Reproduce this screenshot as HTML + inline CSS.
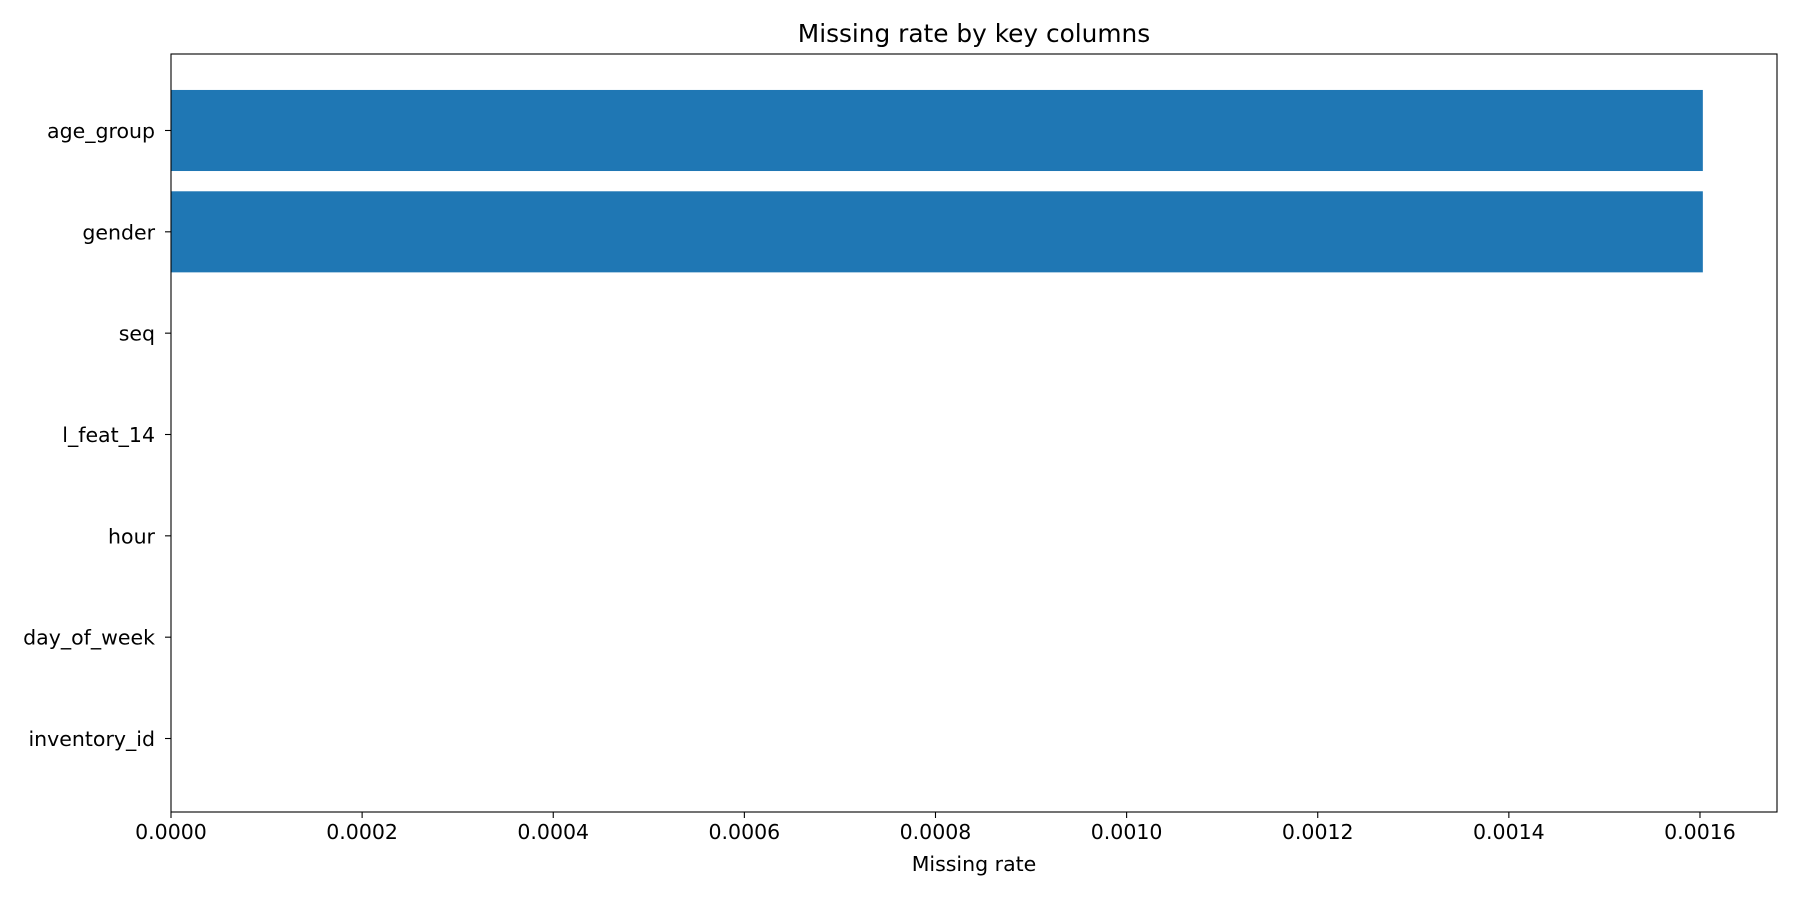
<!DOCTYPE html>
<html><head><meta charset="utf-8"><style>
body{margin:0;background:#fff;}
svg text{font-family:"DejaVu Sans","Liberation Sans",sans-serif;fill:#000;}
</style></head><body>
<svg id="chart" width="1800" height="900" viewBox="0 0 1800 900">
<rect width="1800" height="900" fill="#fff"/>
<g id="plot"></g>
</svg>
<script>
const categories=["age_group","gender","seq","l_feat_14","hour","day_of_week","inventory_id"];
const values=[0.001603,0.001603,0,0,0,0,0];
const xTicks=[0,0.0002,0.0004,0.0006,0.0008,0.0010,0.0012,0.0014,0.0016];
const xTickLabels=["0.0000","0.0002","0.0004","0.0006","0.0008","0.0010","0.0012","0.0014","0.0016"];
const L=171,R=1777,T=54,B=812,XMAX=0.0016806;
const NS="http://www.w3.org/2000/svg";
const g=document.getElementById('plot');
function x(v){return L+(v/XMAX)*(R-L);}
const step=(B-T)/7.48;
function yc(i){return T+1.5+step*0.74+i*step;}
function mk(t,a,txt){const e=document.createElementNS(NS,t);for(const k in a)e.setAttribute(k,a[k]);if(txt!==undefined)e.textContent=txt;g.appendChild(e);return e;}
categories.forEach((c,i)=>{
  const h=step*0.8;
  if(values[i]>0){
    const r=mk('rect',{x:x(0),y:yc(i)-h/2,width:x(values[i])-x(0),height:h,fill:'#1f77b4'});
    
    
  }
  const t=mk('line',{x1:L-6,x2:L,y1:yc(i),y2:yc(i),stroke:'#000','stroke-width':1.1});
  
  
  const lb=mk('text',{x:L-16,y:yc(i)+7.5,'text-anchor':'end','font-size':20.5},c);
  
  
});
xTicks.forEach((v,i)=>{
  const t=mk('line',{x1:x(v),x2:x(v),y1:B,y2:B+6,stroke:'#000','stroke-width':1.1});
  
  
  const lb=mk('text',{x:x(v),y:839,'text-anchor':'middle','font-size':20.5},xTickLabels[i]);
  
  
});
const fr=mk('rect',{x:L,y:T,width:R-L,height:B-T,fill:'none',stroke:'#000','stroke-width':1.1});


const ti=mk('text',{x:(L+R)/2,y:42,'text-anchor':'middle','font-size':24.8},'Missing rate by key columns');


const xl=mk('text',{x:(L+R)/2,y:871,'text-anchor':'middle','font-size':20.5},'Missing rate');


</script>
</body></html>
